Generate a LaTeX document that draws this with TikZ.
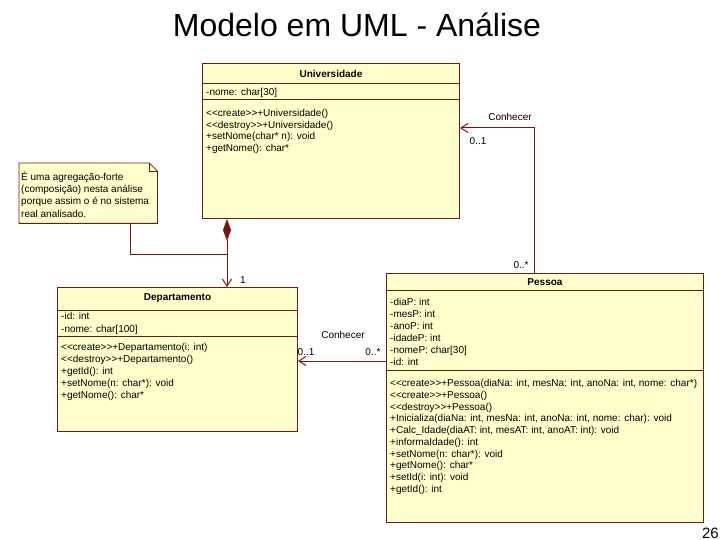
\documentclass[tikz,border=0pt]{standalone}
\usepackage{fontspec}
\setmainfont{Liberation Sans}
\usetikzlibrary{arrows.meta,calc}
\definecolor{umlfill}{RGB}{255,255,204}
\definecolor{umlline}{RGB}{105,30,15}
\definecolor{assoc}{RGB}{125,20,20}
\begin{document}
\begin{tikzpicture}[x=1pt,y=-1pt,
  classbox/.style={draw=umlline, fill=umlfill, line width=1pt, inner sep=0pt, anchor=north west},
  sepline/.style={draw=umlline, line width=1pt},
  ctitle/.style={inner sep=0pt, font=\fontsize{10}{12}\selectfont\bfseries},
  ctext/.style={anchor=north west, inner sep=0pt, align=left, font=\fontsize{10}{12}\selectfont},
  lbl/.style={inner sep=0pt, font=\fontsize{10}{12}\selectfont},
  assocline/.style={draw=assoc, line width=1pt},
  openarrow/.style={-{Straight Barb[length=7pt,width=9pt]}}
]
\useasboundingbox (0,0) rectangle (720,540);
\fill[white] (0,0) rectangle (720,540);

% title and page number
\node[font=\fontsize{32}{36}\selectfont, anchor=base, inner sep=0pt] (title) at (357,37) {Modelo em UML - Análise};
\node[font=\fontsize{15}{18}\selectfont, anchor=base east, inner sep=0pt] (pg) at (719,538) {26};

% Universidade
\node[classbox, minimum width=257pt, minimum height=155pt] (univ) at (202,63) {};
\draw[sepline] ($(univ.north west)+(0,21)$) -- ($(univ.north east)+(0,21)$);
\draw[sepline] ($(univ.north west)+(0,37)$) -- ($(univ.north east)+(0,37)$);
\node[ctitle] (univt) at ($(univ.north)+(0,10.5)$) {Universidade};
\node[ctext] (univa) at (206,88.4) {-nome: char[30]};
\node[ctext, font=\fontsize{10}{11.5}\selectfont] (univm) at (206,109.4) {%
<{}<create>{}>+Universidade()\\
<{}<destroy>{}>+Universidade()\\
+setNome(char* n): void\\
+getNome(): char*};

% Departamento
\node[classbox, minimum width=240pt, minimum height=144pt] (dep) at (57,287) {};
\draw[sepline] ($(dep.north west)+(0,23)$) -- ($(dep.north east)+(0,23)$);
\draw[sepline] ($(dep.north west)+(0,49)$) -- ($(dep.north east)+(0,49)$);
\node[ctitle] (dept) at ($(dep.north)+(0,11)$) {Departamento};
\node[ctext, font=\fontsize{10}{13}\selectfont] (depa) at (61,312.4) {-id: int\\-nome: char[100]};
\node[ctext] (depm) at (61,343.4) {%
<{}<create>{}>+Departamento(i: int)\\
<{}<destroy>{}>+Departamento()\\
+getId(): int\\
+setNome(n: char*): void\\
+getNome(): char*};

% Pessoa
\node[classbox, minimum width=317pt, minimum height=249pt] (pes) at (386,273) {};
\draw[sepline] ($(pes.north west)+(0,17)$) -- ($(pes.north east)+(0,17)$);
\draw[sepline] ($(pes.north west)+(0,97)$) -- ($(pes.north east)+(0,97)$);
\node[ctitle] (pest) at ($(pes.north)+(0,9.5)$) {Pessoa};
\node[ctext, font=\fontsize{10}{11.9}\selectfont] (pesa) at (390,298.4) {%
-diaP: int\\
-mesP: int\\
-anoP: int\\
-idadeP: int\\
-nomeP: char[30]\\
-id: int};
\node[ctext, font=\fontsize{10}{11.7}\selectfont] (pesm) at (390,379.4) {%
<{}<create>{}>+Pessoa(diaNa: int, mesNa: int, anoNa: int, nome: char*)\\
<{}<create>{}>+Pessoa()\\
<{}<destroy>{}>+Pessoa()\\
+Inicializa(diaNa: int, mesNa: int, anoNa: int, nome: char): void\\
+Calc\_Idade(diaAT: int, mesAT: int, anoAT: int): void\\
+informaIdade(): int\\
+setNome(n: char*): void\\
+getNome(): char*\\
+setId(i: int): void\\
+getId(): int};

% Note
\node[anchor=north west, minimum width=138pt, minimum height=60pt, inner sep=0pt] (note) at (19,163) {};
\draw[draw=umlline, fill=umlfill, line width=0.8pt]
  (note.north west) -- ($(note.north east)+(-8,0)$) -- ($(note.north east)+(0,8)$)
  -- (note.south east) -- (note.south west) -- cycle;
\draw[draw=umlline, line width=0.8pt] ($(note.north east)+(-8,0)$) |- ($(note.north east)+(0,8)$);
\node[ctext, font=\fontsize{10}{12.3}\selectfont] (notet) at (21,171.4) {%
É uma agregação-forte\\
(composição) nesta análise\\
porque assim o é no sistema\\
real analisado.};

% composition Universidade <>-- Departamento
\coordinate (u2) at ($(univ.south west)+(25,0)$);
\coordinate (d2) at ($(dep.north west)+(170,0)$);
\draw[assocline, {Diamond[length=22pt,width=8pt,fill=assoc]}-{Straight Barb[length=7pt,width=9pt]}] (u2) -- (d2);
\node[lbl] (one) at (243,280) {1};

% note connector
\coordinate (n1) at ($(note.south west)+(111,0)$);
\coordinate (j1) at ($(u2)+(0,35)$);
\draw[assocline] (n1) |- (j1);

% Conhecer Pessoa -> Universidade
\coordinate (p1) at ($(pes.north west)+(148,0)$);
\coordinate (u1) at ($(univ.north east)+(0,65)$);
\draw[assocline, openarrow] (p1) |- (u1);
\node[lbl] (c1) at (510,117) {Conhecer};
\node[lbl] (m1a) at (478,141) {0..1};
\node[lbl] (m1b) at (521,265) {0..*};

% Conhecer Pessoa -> Departamento
\coordinate (p2) at ($(pes.north west)+(0,88)$);
\draw[assocline, openarrow] (p2) -- (p2 -| dep.east);
\node[lbl] (c2) at (343,335) {Conhecer};
\node[lbl] (m2a) at (306,352) {0..1};
\node[lbl] (m2b) at (373,352) {0..*};
\end{tikzpicture}
\end{document}
